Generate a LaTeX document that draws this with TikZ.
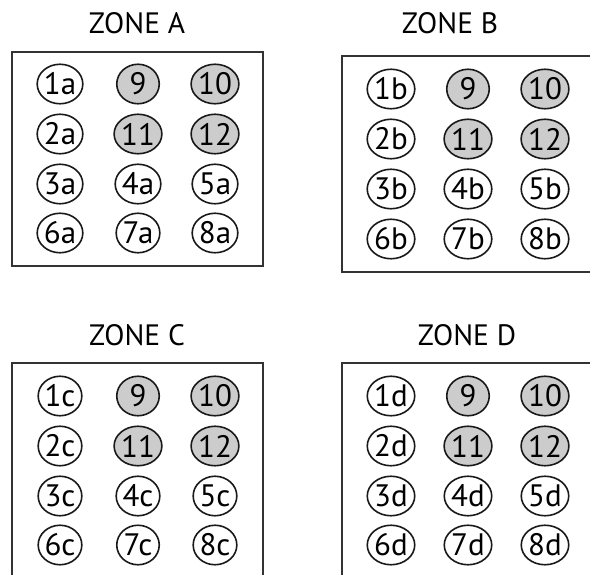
\documentclass[tikz,border=0pt]{standalone}
\usepackage{fontspec}
\setmainfont{PT Sans}
\usepackage{xcolor}
\usepackage{tikz}
\usetikzlibrary{shapes.geometric}
\definecolor{seatgray}{HTML}{CCCCCC}
\definecolor{linegray}{HTML}{333333}

\begin{document}
\begin{tikzpicture}[x=1pt, y=-1pt,
  seat/.style={ellipse, draw=black!90, line width=1.6pt, minimum width=42.5pt,
               minimum height=39.5pt, inner sep=0pt, font=\fontsize{31}{31}\selectfont},
  busy/.style={seat, fill=seatgray},
  title/.style={font=\fontsize{29.5}{29.5}\selectfont},
  zone/.style={draw=linegray, line width=1.5pt}
]
\clip (0,0) rectangle (590,574);

% Zone A
\node[title] (titleA) at (137,23) {ZONE A};
\draw[zone] (12,52) rectangle (263,266);
\node[seat] (a1)  at (60,84)   {1a};
\node[busy] (a9)  at (138,84)  {9};
\node[busy] (a10) at (215,84)  {10};
\node[seat] (a2)  at (60,134)  {2a};
\node[busy] (a11) at (138,134) {11};
\node[busy] (a12) at (215,134) {12};
\node[seat] (a3)  at (60,184)  {3a};
\node[seat] (a4)  at (138,184) {4a};
\node[seat] (a5)  at (215,184) {5a};
\node[seat] (a6)  at (60,233)  {6a};
\node[seat] (a7)  at (138,233) {7a};
\node[seat] (a8)  at (215,233) {8a};

% Zone B
\node[title] (titleB) at (450,23) {ZONE B};
\draw[zone] (342,56) rectangle (600,272);
\node[seat] (b1)  at (391,89)  {1b};
\node[busy] (b9)  at (468,89)  {9};
\node[busy] (b10) at (545,89)  {10};
\node[seat] (b2)  at (391,139) {2b};
\node[busy] (b11) at (468,139) {11};
\node[busy] (b12) at (545,139) {12};
\node[seat] (b3)  at (391,189) {3b};
\node[seat] (b4)  at (468,189) {4b};
\node[seat] (b5)  at (545,189) {5b};
\node[seat] (b6)  at (391,239) {6b};
\node[seat] (b7)  at (468,239) {7b};
\node[seat] (b8)  at (545,239) {8b};

% Zone C
\node[title] (titleC) at (137,335) {ZONE C};
\draw[zone] (12,363) rectangle (263,600);
\node[seat] (c1)  at (60,396)  {1c};
\node[busy] (c9)  at (138,396) {9};
\node[busy] (c10) at (215,396) {10};
\node[seat] (c2)  at (60,446)  {2c};
\node[busy] (c11) at (138,446) {11};
\node[busy] (c12) at (215,446) {12};
\node[seat] (c3)  at (60,496)  {3c};
\node[seat] (c4)  at (138,496) {4c};
\node[seat] (c5)  at (215,496) {5c};
\node[seat] (c6)  at (60,545)  {6c};
\node[seat] (c7)  at (138,545) {7c};
\node[seat] (c8)  at (215,545) {8c};

% Zone D
\node[title] (titleD) at (467,335) {ZONE D};
\draw[zone] (342,363) rectangle (600,600);
\node[seat] (d1)  at (391,396) {1d};
\node[busy] (d9)  at (468,396) {9};
\node[busy] (d10) at (545,396) {10};
\node[seat] (d2)  at (391,446) {2d};
\node[busy] (d11) at (468,446) {11};
\node[busy] (d12) at (545,446) {12};
\node[seat] (d3)  at (391,496) {3d};
\node[seat] (d4)  at (468,496) {4d};
\node[seat] (d5)  at (545,496) {5d};
\node[seat] (d6)  at (391,545) {6d};
\node[seat] (d7)  at (468,545) {7d};
\node[seat] (d8)  at (545,545) {8d};
\end{tikzpicture}
\end{document}
